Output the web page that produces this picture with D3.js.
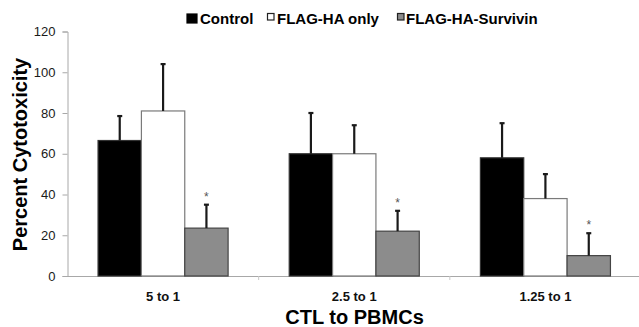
<!DOCTYPE html>
<html>
<head>
<meta charset="utf-8">
<script src="https://cdn.jsdelivr.net/npm/d3@7"></script>
<style>
    body { margin: 0; background: #fff; }
    svg { display: block; font-family: "Liberation Sans", Arial, sans-serif; }
</style>
</head>
<body>
<svg id="chart"></svg>
<script>

// chart values
var categories = ["5 to 1", "2.5 to 1", "1.25 to 1"];
var seriesNames = ["Control", "FLAG-HA only", "FLAG-HA-Survivin"];
var control = [66.5, 60, 58];
var flagOnly = [81, 60, 38];
var survivin = [23.5, 22, 10];
var controlErr = [12, 20, 17];
var flagOnlyErr = [23, 14, 12];
var survivinErr = [11.5, 10, 11];
var survivinStar = [true, true, true];
var yTicks = [0, 20, 40, 60, 80, 100, 120];

var svgWidth = 639;
var svgHeight = 327;
var fills = ["#000000", "#ffffff", "#8c8c8c"];
var strokes = ["#333333", "#7a7a7a", "#444444"];

var svg = d3.select("#chart")
    .attr("width", svgWidth)
    .attr("height", svgHeight);

// scales
var x = d3.scaleBand()
    .domain(categories)
    .range([67.5, 641])
    .paddingInner(0)
    .paddingOuter(0);

var xSeries = d3.scaleBand()
    .domain(seriesNames)
    .range([0, x.bandwidth()])
    .paddingInner(0)
    .paddingOuter(0.705);

var y = d3.scaleLinear()
    .domain([0, 120])
    .range([276, 31.5]);

// rows for the bars
var rows = [];
categories.forEach(function (c, i) {
    rows.push({ cat: c, s: 0, value: control[i], err: controlErr[i], star: false });
    rows.push({ cat: c, s: 1, value: flagOnly[i], err: flagOnlyErr[i], star: false });
    rows.push({ cat: c, s: 2, value: survivin[i], err: survivinErr[i], star: survivinStar[i] });
});

// y axis
var yAxis = d3.axisLeft(y).tickValues(yTicks).tickSize(5).tickPadding(7);
var gy = svg.append("g")
    .attr("transform", "translate(67.5,0)")
    .call(yAxis);
gy.select(".domain").attr("stroke", "#a8a8a8");
gy.selectAll(".tick line").attr("stroke", "#a8a8a8");
gy.selectAll(".tick text")
    .attr("fill", "#1a1a1a")
    .style("font-size", "13px")
    .style("font-family", "'Liberation Sans', Arial, sans-serif");

// x axis
var xAxis = d3.axisBottom(x).tickSize(0).tickPadding(16);
var gx = svg.append("g")
    .attr("transform", "translate(0,276)")
    .call(xAxis);
gx.select(".domain").attr("stroke", "#a8a8a8");
gx.selectAll(".tick text")
    .attr("fill", "#111")
    .style("font-size", "13px")
    .style("font-weight", "bold")
    .style("font-family", "'Liberation Sans Narrow', 'Arial Narrow', 'Liberation Sans', sans-serif");

// small separator ticks between categories
svg.selectAll(".sep")
    .data(categories.slice(1))
    .enter().append("line")
    .attr("class", "sep")
    .attr("x1", function (d) { return x(d); })
    .attr("x2", function (d) { return x(d); })
    .attr("y1", 276)
    .attr("y2", 280)
    .attr("stroke", "#c8c8c8");

// bars
svg.selectAll("rect.bar")
    .data(rows)
    .enter().append("rect")
    .attr("class", "bar")
    .attr("x", function (d) { return x(d.cat) + xSeries(seriesNames[d.s]); })
    .attr("y", function (d) { return y(d.value); })
    .attr("width", xSeries.bandwidth())
    .attr("height", function (d) { return y(0) - y(d.value); })
    .attr("fill", function (d) { return fills[d.s]; })
    .attr("stroke", function (d) { return strokes[d.s]; })
    .attr("stroke-width", 1.2);

// error bars (upper only)
function cx(d) { return x(d.cat) + xSeries(seriesNames[d.s]) + xSeries.bandwidth() / 2; }

svg.selectAll("line.err")
    .data(rows)
    .enter().append("line")
    .attr("class", "err")
    .attr("x1", cx)
    .attr("x2", cx)
    .attr("y1", function (d) { return y(d.value); })
    .attr("y2", function (d) { return y(d.value + d.err); })
    .attr("stroke", "#1a1a1a")
    .attr("stroke-width", 2.2);

svg.selectAll("line.cap")
    .data(rows)
    .enter().append("line")
    .attr("class", "cap")
    .attr("x1", function (d) { return cx(d) - 2.5; })
    .attr("x2", function (d) { return cx(d) + 2.5; })
    .attr("y1", function (d) { return y(d.value + d.err); })
    .attr("y2", function (d) { return y(d.value + d.err); })
    .attr("stroke", "#1a1a1a")
    .attr("stroke-width", 2.2);

// significance stars
svg.selectAll("text.star")
    .data(rows.filter(function (d) { return d.star; }))
    .enter().append("text")
    .attr("class", "star")
    .attr("x", cx)
    .attr("y", function (d) { return y(d.value + d.err) - 4; })
    .attr("text-anchor", "middle")
    .attr("fill", "#555")
    .style("font-size", "12px")
    .text("*");

// axis titles
svg.append("text")
    .attr("transform", "translate(27,154.5) rotate(-90)")
    .attr("text-anchor", "middle")
    .style("font-size", "20px")
    .style("font-weight", "bold")
    .attr("fill", "#000")
    .text("Percent Cytotoxicity");

svg.append("text")
    .attr("x", 354.5)
    .attr("y", 324)
    .attr("text-anchor", "middle")
    .style("font-size", "20px")
    .style("font-weight", "bold")
    .attr("fill", "#000")
    .text("CTL to PBMCs");

// legend
var legendItems = [
    { name: seriesNames[0], sx: 187, sy: 14, sw: 10, sh: 9, tx: 200 },
    { name: seriesNames[1], sx: 267.5, sy: 13.5, sw: 6.5, sh: 6.5, tx: 277 },
    { name: seriesNames[2], sx: 397.5, sy: 13.5, sw: 6.5, sh: 6.5, tx: 406 }
];

var legend = svg.append("g").attr("class", "legend");
legend.selectAll("rect")
    .data(legendItems)
    .enter().append("rect")
    .attr("x", function (d) { return d.sx; })
    .attr("y", function (d) { return d.sy; })
    .attr("width", function (d) { return d.sw; })
    .attr("height", function (d) { return d.sh; })
    .attr("fill", function (d, i) { return fills[i]; })
    .attr("stroke", function (d, i) { return i === 0 ? "#000" : "#222"; })
    .attr("stroke-width", 1.2);

legend.selectAll("text")
    .data(legendItems)
    .enter().append("text")
    .attr("x", function (d) { return d.tx; })
    .attr("y", 24)
    .style("font-size", "15px")
    .style("font-weight", "bold")
    .attr("fill", "#000")
    .text(function (d) { return d.name; });

</script>
</body>
</html>
